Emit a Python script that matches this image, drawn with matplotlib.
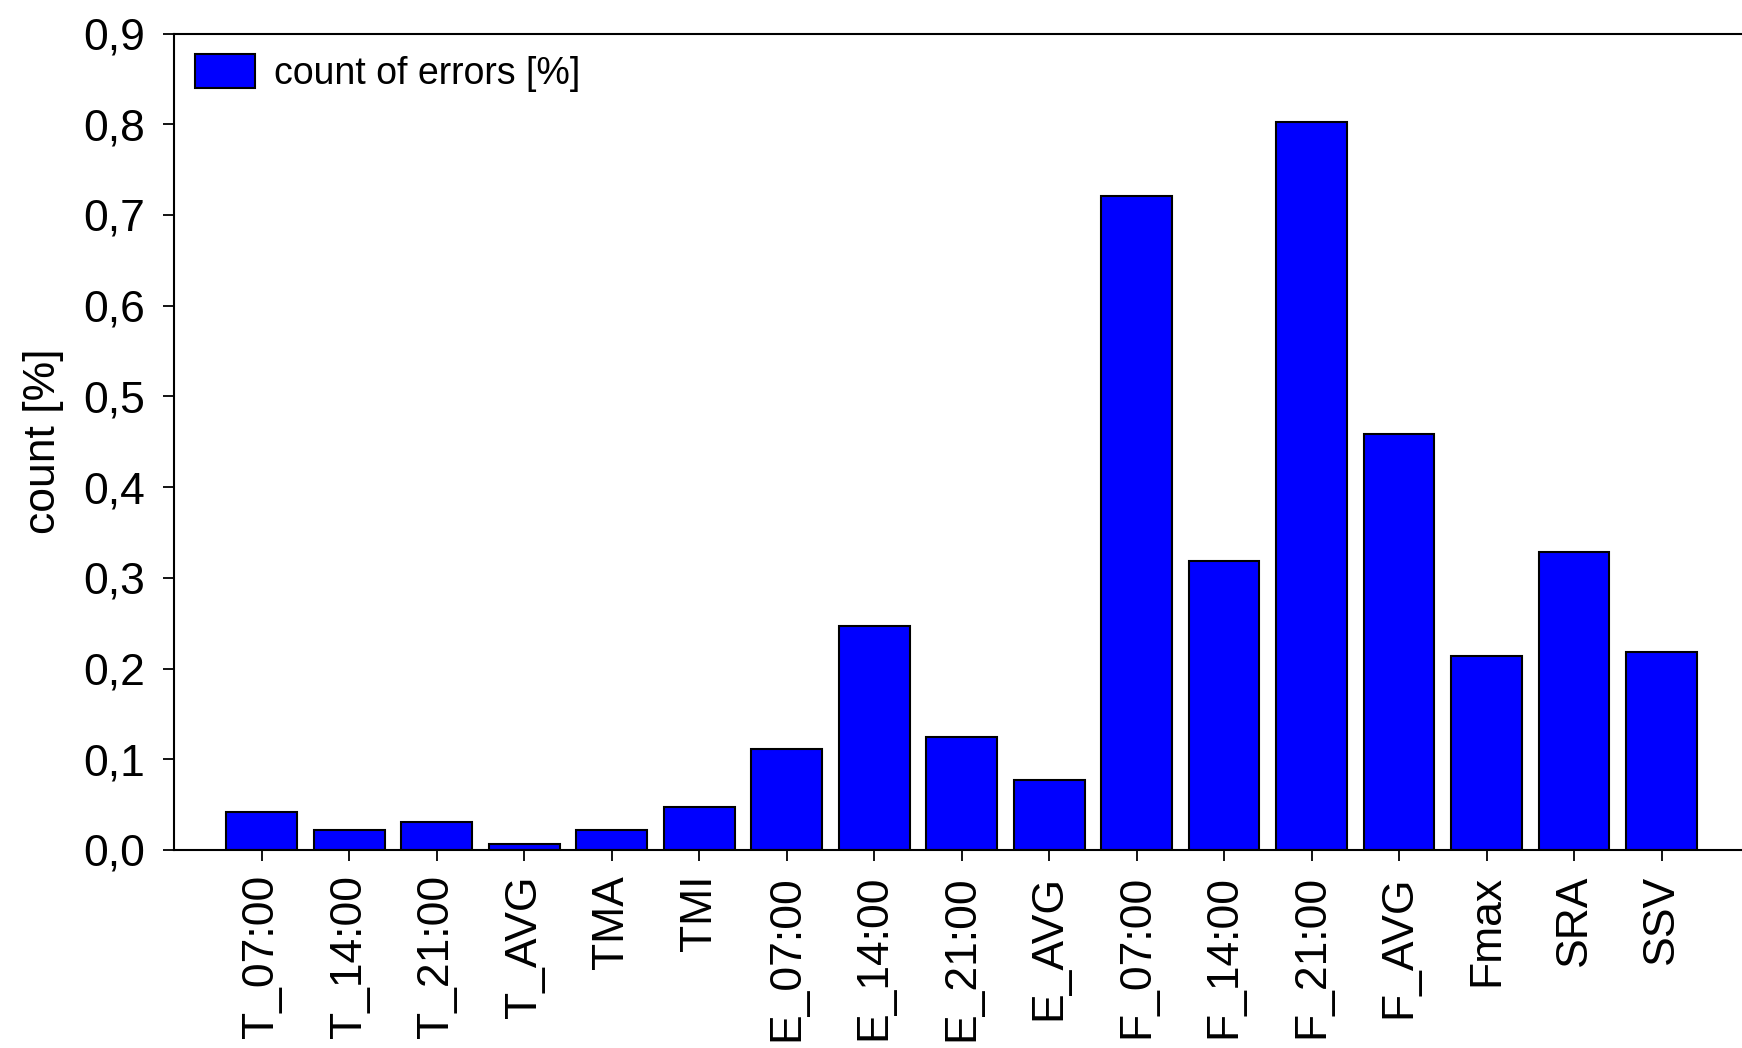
import matplotlib
matplotlib.use("Agg")
import matplotlib.pyplot as plt
from matplotlib.ticker import FuncFormatter

plt.rcParams['font.family'] = ['Liberation Sans', 'DejaVu Sans']

# data
labels = ["T_07:00", "T_14:00", "T_21:00", "T_AVG", "TMA", "TMI",
          "E_07:00", "E_14:00", "E_21:00", "E_AVG",
          "F_07:00", "F_14:00", "F_21:00", "F_AVG", "Fmax", "SRA", "SSV"]
errors = [0.042, 0.022, 0.031, 0.006, 0.022, 0.047,
          0.111, 0.247, 0.125, 0.077,
          0.721, 0.318, 0.802, 0.459, 0.214, 0.328, 0.218]

fig = plt.figure(figsize=(17.42, 10.48), dpi=100)
ax = fig.add_axes([0.100, 0.189, 0.900, 0.779])

x = range(len(labels))
ax.bar(x, errors, width=0.81, color='#0000ff', edgecolor='black',
       linewidth=1.5, label='count of errors [%]')

ax.set_xlim(-1.0, 16.92)
ax.set_ylim(0, 0.9)
ax.set_yticks([i / 10 for i in range(10)])
ax.yaxis.set_major_formatter(FuncFormatter(lambda v, p: f"{v:.1f}".replace('.', ',')))
ax.set_xticks(list(x))
ax.set_xticklabels(labels, rotation=90)

ax.spines['right'].set_visible(False)
for s in ['left', 'bottom', 'top']:
    ax.spines[s].set_linewidth(1.5)
ax.tick_params(axis='both', direction='out', length=8, width=1.3, labelsize=32)
ax.tick_params(axis='y', pad=13)
ax.tick_params(axis='x', pad=10)

ax.set_ylabel("count [%]", fontsize=32, labelpad=14)

ax.legend(loc='upper left', frameon=False, fontsize=27, handlelength=1.6,
          handleheight=1.0, borderaxespad=0.15, handletextpad=0.5)

fig.savefig("out.png", dpi=100)
